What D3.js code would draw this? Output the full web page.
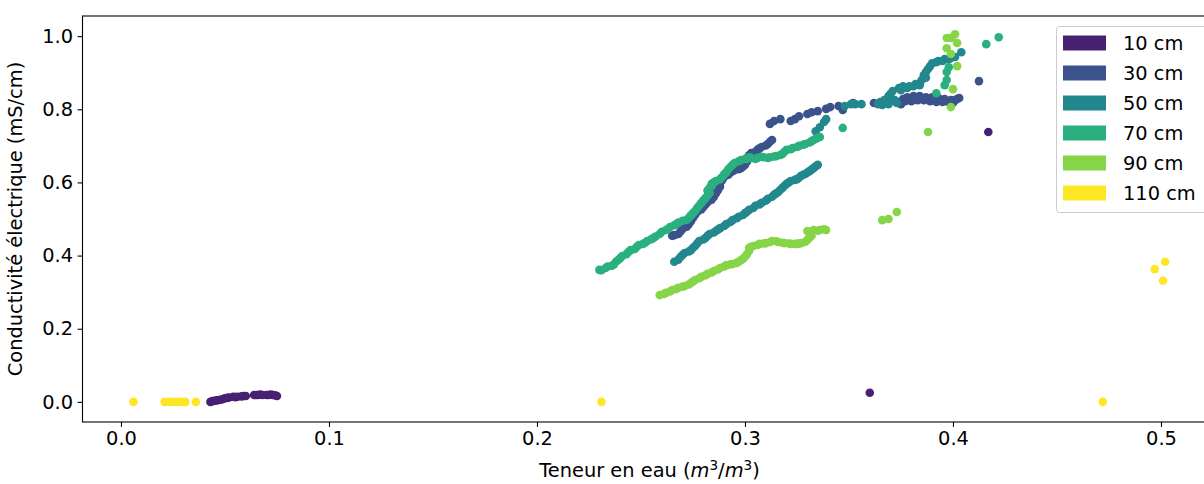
<!DOCTYPE html>
<html>
<head>
<meta charset="utf-8">
<script src="https://cdn.jsdelivr.net/npm/d3@7"></script>
<style>
  body { margin: 0; background: #fff; }
  text { font-family: "DejaVu Sans", sans-serif; fill: #000; }
</style>
</head>
<body>
<svg id="chart"></svg>
<script>
// depth series : [teneur en eau, conductivite]
var depths = ["10 cm", "30 cm", "50 cm", "70 cm", "90 cm", "110 cm"];
var colors = ["#482071", "#3b528b", "#23888e", "#2ab07f", "#86d549", "#fde725"];

var pts10 = [[0.043,0.000],[0.045,0.003],[0.047,0.005],[0.049,0.008],[0.051,0.011],[0.054,0.014],
  [0.056,0.014],[0.059,0.016],[0.064,0.019],[0.066,0.019],[0.068,0.019],[0.071,0.019],[0.073,0.019],
  [0.075,0.016],
  [0.044,0.002],[0.046,0.004],[0.048,0.006],[0.050,0.010],[0.052,0.012],[0.055,0.013],[0.058,0.015],
  [0.060,0.016],[0.065,0.019],[0.067,0.020],[0.070,0.019],[0.072,0.020],[0.074,0.018],
  [0.360,0.025],[0.417,0.738]];

var pts30 = [[0.265,0.454],[0.268,0.459],[0.270,0.473],[0.273,0.486],[0.275,0.503],[0.277,0.519],
  [0.280,0.533],[0.282,0.546],[0.285,0.560],[0.287,0.579],[0.288,0.598],[0.290,0.615],[0.293,0.628],
  [0.295,0.634],[0.298,0.639],[0.300,0.648],[0.301,0.667],[0.303,0.680],[0.306,0.689],[0.308,0.697],
  [0.311,0.705],[0.313,0.716],
  [0.266,0.456],[0.269,0.466],[0.272,0.479],[0.274,0.494],[0.276,0.511],[0.279,0.526],[0.281,0.540],
  [0.284,0.553],[0.286,0.570],[0.288,0.588],[0.289,0.606],[0.292,0.621],[0.294,0.631],[0.297,0.636],
  [0.299,0.643],[0.301,0.657],[0.302,0.674],[0.305,0.684],[0.307,0.693],[0.310,0.701],[0.312,0.711],
  [0.312,0.760],[0.314,0.768],[0.317,0.773],[0.322,0.768],[0.324,0.773],[0.326,0.781],[0.330,0.787],
  [0.332,0.792],[0.335,0.795],[0.339,0.801],[0.341,0.806],[0.345,0.809],[0.347,0.798],[0.352,0.817],
  [0.362,0.817],
  [0.374,0.820],[0.376,0.828],[0.378,0.833],[0.381,0.836],[0.384,0.836],[0.387,0.833],[0.390,0.833],
  [0.393,0.831],[0.396,0.828],[0.399,0.825],[0.401,0.825],[0.403,0.831],[0.377,0.822],[0.380,0.822],
  [0.383,0.825],[0.386,0.825],[0.389,0.822],[0.392,0.820],[0.395,0.820],[0.398,0.820],[0.400,0.817],
  [0.375,0.814],[0.379,0.828],[0.382,0.831],[0.385,0.831],[0.388,0.828],[0.391,0.828],[0.394,0.825],
  [0.397,0.822],[0.400,0.822],[0.402,0.828],
  [0.4125,0.877]];

var pts50 = [[0.266,0.383],[0.269,0.396],[0.271,0.407],[0.274,0.415],[0.276,0.426],[0.278,0.440],
  [0.281,0.448],[0.283,0.459],[0.286,0.467],[0.288,0.475],[0.291,0.486],[0.294,0.497],[0.297,0.506],
  [0.300,0.516],[0.302,0.525],[0.305,0.536],[0.308,0.544],[0.311,0.555],[0.314,0.566],[0.316,0.574],
  [0.318,0.585],[0.320,0.596],[0.322,0.604],[0.325,0.609],[0.327,0.618],[0.329,0.623],[0.331,0.631],
  [0.333,0.639],[0.335,0.648],
  [0.268,0.389],[0.270,0.402],[0.273,0.411],[0.275,0.421],[0.277,0.433],[0.280,0.444],[0.282,0.454],
  [0.285,0.463],[0.287,0.471],[0.290,0.481],[0.293,0.492],[0.296,0.502],[0.299,0.511],[0.301,0.520],
  [0.304,0.530],[0.307,0.540],[0.310,0.550],[0.313,0.561],[0.315,0.570],[0.317,0.580],[0.319,0.591],
  [0.321,0.600],[0.324,0.607],[0.326,0.613],[0.328,0.621],[0.330,0.627],[0.332,0.635],[0.334,0.644],
  [0.334,0.740],[0.336,0.751],[0.338,0.765],[0.339,0.773],[0.348,0.809],[0.351,0.814],[0.353,0.814],
  [0.356,0.814],[0.365,0.820],[0.367,0.817],[0.370,0.822],[0.373,0.817],[0.367,0.825],[0.369,0.836],
  [0.371,0.850],[0.374,0.858],[0.376,0.863],[0.379,0.863],[0.382,0.869],[0.385,0.880],[0.386,0.893],
  [0.388,0.910],[0.390,0.926],[0.393,0.932],[0.396,0.937],[0.399,0.940],[0.401,0.943],[0.404,0.956],
  [0.366,0.812],[0.369,0.814],[0.372,0.825],[0.375,0.852],[0.378,0.858],[0.381,0.863],[0.384,0.872],
  [0.387,0.902],[0.389,0.918],[0.392,0.929],[0.395,0.932],[0.398,0.937],[0.387,0.886],[0.384,0.866],
  [0.364,0.814],[0.370,0.842]];

var pts70 = [[0.230,0.361],[0.233,0.366],[0.236,0.372],[0.238,0.383],[0.240,0.393],[0.243,0.404],
  [0.245,0.415],[0.248,0.424],[0.251,0.432],[0.253,0.440],[0.256,0.448],[0.259,0.459],[0.262,0.470],
  [0.264,0.478],[0.267,0.486],[0.270,0.495],[0.273,0.503],[0.275,0.516],[0.277,0.530],[0.279,0.544],
  [0.281,0.557],[0.283,0.571],[0.283,0.585],[0.284,0.596],[0.286,0.604],[0.289,0.615],[0.291,0.628],
  [0.293,0.642],[0.295,0.653],[0.298,0.661],[0.301,0.664],[0.303,0.667],[0.306,0.667],[0.309,0.669],
  [0.312,0.669],[0.315,0.672],[0.318,0.678],[0.320,0.689],[0.323,0.694],[0.326,0.700],[0.329,0.705],
  [0.332,0.713],[0.334,0.719],[0.336,0.724],
  [0.231,0.360],[0.234,0.370],[0.237,0.376],[0.239,0.388],[0.241,0.399],[0.244,0.410],[0.247,0.418],
  [0.249,0.429],[0.252,0.435],[0.255,0.445],[0.257,0.452],[0.260,0.465],[0.263,0.473],[0.266,0.483],
  [0.268,0.490],[0.272,0.498],[0.274,0.510],[0.276,0.522],[0.278,0.537],[0.280,0.551],[0.282,0.564],
  [0.282,0.578],[0.284,0.590],[0.285,0.600],[0.288,0.609],[0.290,0.622],[0.292,0.636],[0.294,0.648],
  [0.297,0.658],[0.300,0.664],[0.302,0.669],[0.305,0.664],[0.308,0.670],[0.311,0.667],[0.314,0.671],
  [0.317,0.675],[0.319,0.684],[0.322,0.691],[0.325,0.697],[0.328,0.703],[0.331,0.709],[0.333,0.716],
  [0.335,0.722],
  [0.347,0.749],[0.392,0.844],[0.396,0.866],[0.397,0.880],[0.397,0.902],[0.398,0.915],
  [0.416,0.978],[0.422,0.997]];

var pts90 = [[0.259,0.292],[0.262,0.298],[0.265,0.306],[0.268,0.312],[0.271,0.317],[0.274,0.325],
  [0.276,0.333],[0.279,0.342],[0.282,0.350],[0.285,0.358],[0.288,0.366],[0.291,0.374],[0.294,0.377],
  [0.297,0.383],[0.299,0.391],[0.301,0.404],[0.302,0.421],[0.304,0.426],[0.307,0.432],[0.310,0.434],
  [0.313,0.440],[0.316,0.437],[0.319,0.434],[0.322,0.432],[0.325,0.432],[0.327,0.434],[0.330,0.443],
  [0.332,0.454],[0.330,0.467],[0.333,0.470],[0.336,0.470],[0.339,0.470],
  [0.261,0.295],[0.264,0.302],[0.267,0.309],[0.270,0.315],[0.273,0.321],[0.275,0.329],[0.278,0.338],
  [0.281,0.346],[0.284,0.354],[0.287,0.362],[0.290,0.370],[0.293,0.376],[0.296,0.380],[0.298,0.387],
  [0.300,0.397],[0.302,0.413],[0.303,0.424],[0.306,0.429],[0.309,0.433],[0.312,0.437],[0.315,0.439],
  [0.318,0.435],[0.321,0.433],[0.324,0.432],[0.326,0.433],[0.329,0.438],[0.331,0.449],[0.331,0.462],
  [0.335,0.468],[0.338,0.472],
  [0.366,0.497],[0.369,0.500],[0.373,0.519],
  [0.388,0.738],[0.399,0.806],[0.400,0.855],[0.402,0.918],[0.399,0.951],[0.397,0.967],[0.399,0.995],
  [0.401,1.005],[0.402,0.981],[0.397,0.995]];

var pts110 = [[0.006,0.000],[0.021,0.000],[0.023,0.000],[0.025,0.000],[0.027,0.000],[0.029,0.000],
  [0.031,0.000],[0.036,0.000],[0.231,0.000],[0.472,0.000],[0.497,0.363],[0.502,0.383],[0.501,0.331]];

var xTicks = [0.0, 0.1, 0.2, 0.3, 0.4, 0.5];
var yTicks = [0.0, 0.2, 0.4, 0.6, 0.8, 1.0];

var series = [pts10, pts30, pts50, pts70, pts90, pts110];

function render_chart(){

var width = 1204, height = 484;
var mLeft = 82.5, mRight = 1216.5, mTop = 16, mBottom = 422;

var svg = d3.select("#chart")
    .attr("width", width)
    .attr("height", height);

var x = d3.scaleLinear().domain([-0.0185, 0.5267]).range([mLeft, mRight]);
var y = d3.scaleLinear().domain([-0.055, 1.055]).range([mBottom, mTop]);

// points
series.forEach(function(pts, i){
    svg.append("g")
        .selectAll("circle")
        .data(pts)
        .enter()
        .append("circle")
        .attr("cx", function(d){ return x(d[0]); })
        .attr("cy", function(d){ return y(d[1]); })
        .attr("r", 4.3)
        .attr("fill", colors[i]);
});

// axes
var xAxis = svg.append("g")
    .attr("transform", "translate(0," + mBottom + ")")
    .call(d3.axisBottom(x).tickValues(xTicks).tickFormat(d3.format(".1f")).tickSizeOuter(0).tickSize(4.9).tickPadding(4.5));
var yAxis = svg.append("g")
    .attr("transform", "translate(" + mLeft + ",0)")
    .call(d3.axisLeft(y).tickValues(yTicks).tickFormat(d3.format(".1f")).tickSizeOuter(0).tickSize(4.9).tickPadding(4.5));

[xAxis, yAxis].forEach(function(a){
    a.select(".domain").remove();
    a.selectAll(".tick line").attr("stroke", "#000").attr("stroke-width", 1.1);
    a.selectAll(".tick text")
        .style("font-family", "DejaVu Sans")
        .style("font-size", "19.4px")
        .attr("fill", "#000");
});

// frame
svg.append("rect")
    .attr("x", mLeft).attr("y", mTop)
    .attr("width", mRight - mLeft).attr("height", mBottom - mTop)
    .attr("fill", "none").attr("stroke", "#000").attr("stroke-width", 1.1);

// axis labels
var xl = svg.append("text")
    .attr("x", (mLeft + mRight) / 2)
    .attr("y", 477)
    .attr("text-anchor", "middle")
    .style("font-size", "19.4px");
xl.append("tspan").text("Teneur en eau (");
xl.append("tspan").attr("font-style", "italic").text("m");
xl.append("tspan").attr("dy", -7).style("font-size", "13.6px").text("3");
xl.append("tspan").attr("dy", 7).text("/");
xl.append("tspan").attr("font-style", "italic").text("m");
xl.append("tspan").attr("dy", -7).style("font-size", "13.6px").text("3");
xl.append("tspan").attr("dy", 7).text(")");

svg.append("text")
    .attr("transform", "translate(22," + ((mTop + mBottom) / 2) + ") rotate(-90)")
    .attr("text-anchor", "middle")
    .style("font-size", "19.4px")
    .text("Conductivité électrique (mS/cm)");

// legend
var lg = svg.append("g");
lg.append("rect")
    .attr("x", 1056.5).attr("y", 26.5)
    .attr("width", 153).attr("height", 186)
    .attr("rx", 3)
    .attr("fill", "#fff").attr("fill-opacity", 0.8)
    .attr("stroke", "#cccccc").attr("stroke-width", 1);

depths.forEach(function(name, i){
    var cy = 43 + i * 30;
    lg.append("rect")
        .attr("x", 1063).attr("y", cy - 7.5)
        .attr("width", 43).attr("height", 15)
        .attr("fill", colors[i]);
    lg.append("text")
        .attr("x", 1123).attr("y", cy + 7)
        .style("font-size", "19.4px")
        .text(name);
});
}

render_chart();
</script>
</body>
</html>
